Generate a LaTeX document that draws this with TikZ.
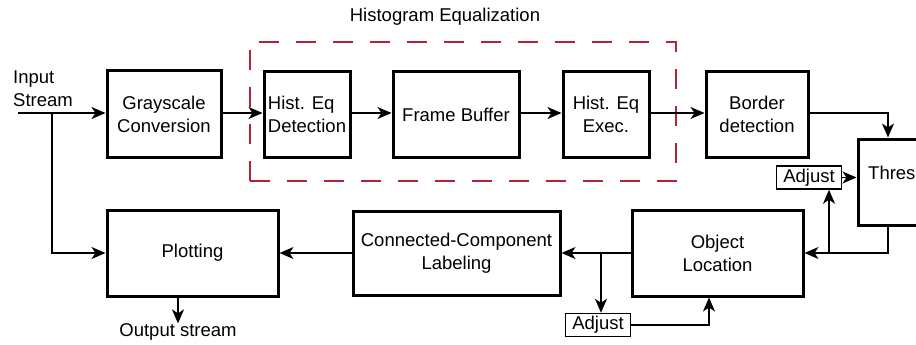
\documentclass[tikz,border=0pt]{standalone}
\usepackage{fontspec}
\setmainfont{Liberation Sans}
\usetikzlibrary{arrows.meta}
\definecolor{hecol}{RGB}{176,36,58}
\tikzset{
  blk/.style={draw, line width=3pt, rectangle, inner sep=0pt, align=center,
              font=\fontsize{18.5}{23}\selectfont},
  adjbox/.style={draw, line width=1.5pt, rectangle, inner sep=0pt,
                 minimum width=65pt, minimum height=23pt,
                 font=\fontsize{18.5}{23}\selectfont},
  txt/.style={inner sep=0pt, font=\fontsize{18.5}{23}\selectfont},
  conn/.style={line width=1.5pt, -{Stealth[length=14pt,width=12pt,inset=4pt]}},
}
\begin{document}
\begin{tikzpicture}[x=1pt, y=-1pt]
\useasboundingbox (0,0) rectangle (916,345);
\clip (0,0) rectangle (916,345);

% processing blocks
\node[blk, minimum width=114pt, minimum height=86pt] (gray) at (164,114) {Grayscale\\Conversion};
\node[blk, minimum width=86pt, minimum height=85pt, align=left] (hdet) at (307,114.5) {Hist. Eq\\Detection};
\node[blk, minimum width=126pt, minimum height=85pt] (fbuf) at (456,114.5) {Frame Buffer};
\node[blk, minimum width=86pt, minimum height=85pt] (hexe) at (606,114.5) {Hist. Eq\\Exec.};
\node[blk, minimum width=102pt, minimum height=85pt] (bord) at (757,114.5) {Border\\detection};
\node[blk, minimum width=110pt, minimum height=86pt] (thres) at (913,182) {};
\node[txt, anchor=west] (thrlab) at (868,173) {Thres};

\node[blk, minimum width=171pt, minimum height=86pt] (plot) at (192.5,253) {Plotting};
\node[blk, minimum width=207pt, minimum height=84pt] (ccl) at (456.5,253) {Connected-Component\\Labeling};
\node[blk, minimum width=171pt, minimum height=86pt] (objl) at (717.5,253) {Object\\Location};

\node[adjbox] (adj1) at (809,177.5) {Adjust};
\node[adjbox] (adj2) at (598,325) {Adjust};

% histogram equalization group
\node[draw=hecol, line width=1.5pt, dash pattern=on 20pt off 17pt, inner sep=0pt,
      minimum width=426pt, minimum height=139pt] (hegrp) at (463,111.5) {};
\node[txt] (helab) at (445,17) {Histogram Equalization};

% input / output labels
\node[txt, anchor=north west, align=left] (inlab) at (13,71) {Input\\Stream};
\node[txt] (outlab) at (178,332) {Output stream};

% helper coordinates for connector routing
\coordinate (in) at (18,113);
\coordinate (split) at (52,113);
\coordinate (tx) at (888,0);
\coordinate (jx) at (829,0);
\coordinate (j2) at (601,0);
\coordinate (j3) at (709,0);

% top row
\draw[conn] (in) -- (gray.west |- in);
\draw[conn] (gray.east |- in) -- (hdet.west |- in);
\draw[conn] (hdet.east |- in) -- (fbuf.west |- in);
\draw[conn] (fbuf.east |- in) -- (hexe.west |- in);
\draw[conn] (hexe.east |- in) -- (bord.west |- in);
\draw[conn] (bord.east |- in) -| (thres.north -| tx);

% bypass to plotting
\draw[conn] (split) |- (plot.west);

% threshold feedback
\draw[conn] (thres.south -| tx) |- (objl.east);
\draw[conn] (objl.east -| jx) -- (adj1.south -| jx);
\draw[conn] (adj1.east) -- (adj1.east -| thres.west);

% bottom row
\draw[conn] (objl.west) -- (ccl.east);
\draw[conn] (objl.west -| j2) -- (adj2.north -| j2);
\draw[conn] (adj2.east) -| (objl.south -| j3);
\draw[conn] (ccl.west) -- (plot.east);
\draw[conn] (plot.south -| outlab) -- (outlab.north);
\end{tikzpicture}
\end{document}
